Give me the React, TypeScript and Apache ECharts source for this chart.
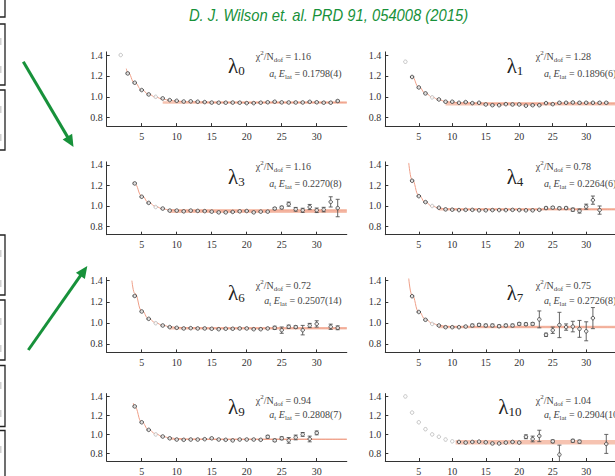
import React, { useEffect, useRef } from "react";
import * as echarts from "echarts";

// ---------- tick labels ----------
const xTickLabels = [5, 10, 15, 20, 25, 30];
const yTickLabels = [0.8, 1.0, 1.2, 1.4];

// ---------- panel annotations ----------
const panelNames = ["0", "1", "3", "4", "6", "7", "9", "10"];
const chiSq = ["1.16", "1.28", "1.16", "0.78", "0.72", "0.75", "0.94", "1.04"];
const energies = ["0.1798(4)", "0.1896(6)", "0.2270(8)", "0.2264(6)", "0.2507(14)", "0.2726(8)", "0.2808(7)", "0.2904(10)"];

// ---------- lambda_0 ----------
const lam0Start = 3;
const lam0Y = [1.224, 1.135, 1.065, 1.023, null, 0.985, 0.969, 0.962, 0.955, 0.957, 0.953, 0.95, 0.945, 0.944, 0.944, 0.945, 0.944, 0.94, 0.94, 0.944, 0.948, 0.953, 0.947, 0.946, 0.946, 0.946, 0.952, 0.948, 0.944, 0.944, 0.96];
const lam0Err = [0.006, 0.005, 0.005, 0.005, 0, 0.004, 0.004, 0.004, 0.004, 0.004, 0.004, 0.004, 0.004, 0.004, 0.004, 0.004, 0.004, 0.004, 0.004, 0.004, 0.004, 0.005, 0.004, 0.004, 0.004, 0.004, 0.005, 0.005, 0.005, 0.005, 0.008];
const lam0GreyT = [2, 7];
const lam0GreyY = [1.4, 1.0];
const lam0CurveT = [2.8, 3, 4, 5, 6, 7, 8, 9, 10, 12, 15, 20, 34.3];
const lam0CurveY = [1.27, 1.235, 1.135, 1.068, 1.025, 0.997, 0.978, 0.966, 0.958, 0.951, 0.947, 0.945, 0.945];
const lam0Plateau = 0.945;
const lam0BandFrom = 8;

// ---------- lambda_1 ----------
const lam1Start = 4;
const lam1Y = [1.19, 1.09, 1.033, null, 0.975, 0.953, 0.953, 0.943, 0.95, 0.94, 0.943, 0.927, 0.92, 0.92, 0.93, 0.927, 0.927, 0.915, 0.92, 0.92, 0.94, 0.93, 0.943, 0.943, 0.946, 0.943, 0.943, 0.943, 0.943, 0.943];
const lam1Err = [0.006, 0.005, 0.005, 0, 0.005, 0.005, 0.005, 0.005, 0.005, 0.005, 0.005, 0.005, 0.005, 0.005, 0.005, 0.005, 0.005, 0.005, 0.005, 0.005, 0.006, 0.006, 0.007, 0.007, 0.007, 0.007, 0.007, 0.007, 0.007, 0.007];
const lam1GreyT = [3, 7];
const lam1GreyY = [1.336, 0.995];
const lam1CurveT = [3.9, 4, 5, 6, 7, 8, 9, 10, 12, 15, 20, 34.3];
const lam1CurveY = [1.2, 1.19, 1.095, 1.035, 0.997, 0.972, 0.956, 0.947, 0.939, 0.935, 0.934, 0.934];
const lam1Plateau = 0.934;
const lam1BandFrom = 9;

// ---------- lambda_3 ----------
const lam3Start = 4;
const lam3Y = [1.22, 1.09, 1.03, null, 0.975, 0.955, 0.955, 0.948, 0.955, 0.952, 0.95, 0.945, 0.938, 0.938, 0.942, 0.948, 0.951, 0.938, 0.945, 0.945, 0.975, 0.985, 1.018, 0.968, 0.958, 0.99, 0.958, 0.965, 1.04, 0.98];
const lam3Err = [0.006, 0.005, 0.005, 0, 0.005, 0.005, 0.005, 0.005, 0.005, 0.005, 0.005, 0.005, 0.005, 0.005, 0.005, 0.005, 0.005, 0.005, 0.005, 0.005, 0.01, 0.012, 0.02, 0.018, 0.02, 0.025, 0.022, 0.022, 0.05, 0.085];
const lam3GreyT = [7];
const lam3GreyY = [0.99];
const lam3CurveT = [3.8, 4, 5, 6, 7, 8, 9, 10, 12, 15, 34.3];
const lam3CurveY = [1.235, 1.215, 1.1, 1.035, 0.995, 0.972, 0.962, 0.957, 0.953, 0.952, 0.952];
const lam3Plateau = 0.952;
const lam3BandFrom = 9;

// ---------- lambda_4 ----------
const lam4Start = 4;
const lam4Y = [1.246, 1.096, 1.038, null, 0.983, 0.967, 0.964, 0.96, 0.962, 0.962, 0.958, 0.958, 0.96, 0.96, 0.96, 0.962, 0.96, 0.958, 0.958, 0.962, 0.98, 0.984, 0.978, 0.98, 0.964, 0.951, 0.993, 1.057, 0.96];
const lam4Err = [0.006, 0.005, 0.005, 0, 0.005, 0.005, 0.005, 0.005, 0.005, 0.005, 0.005, 0.005, 0.005, 0.005, 0.005, 0.005, 0.005, 0.005, 0.005, 0.005, 0.01, 0.01, 0.01, 0.01, 0.015, 0.02, 0.025, 0.04, 0.04];
const lam4GreyT = [7];
const lam4GreyY = [1.0];
const lam4CurveT = [3.5, 4, 5, 6, 7, 8, 9, 10, 12, 34.3];
const lam4CurveY = [1.42, 1.255, 1.105, 1.035, 0.998, 0.98, 0.972, 0.969, 0.967, 0.967];
const lam4Plateau = 0.967;
const lam4BandFrom = 8;

// ---------- lambda_6 ----------
const lam6Start = 4;
const lam6Y = [1.255, 1.108, 1.038, null, 0.975, 0.96, 0.953, 0.947, 0.95, 0.947, 0.947, 0.944, 0.94, 0.944, 0.944, 0.947, 0.947, 0.94, 0.94, 0.947, 0.953, 0.931, 0.963, 0.96, 0.931, 0.975, 0.99, null, 0.963, 0.953];
const lam6Err = [0.006, 0.005, 0.005, 0, 0.005, 0.005, 0.005, 0.005, 0.005, 0.005, 0.005, 0.005, 0.005, 0.005, 0.005, 0.005, 0.005, 0.005, 0.005, 0.005, 0.015, 0.03, 0.015, 0.012, 0.045, 0.02, 0.03, 0, 0.025, 0.018];
const lam6GreyT = [7];
const lam6GreyY = [0.997];
const lam6CurveT = [3.6, 4, 5, 6, 7, 8, 9, 10, 12, 15, 34.3];
const lam6CurveY = [1.4, 1.28, 1.115, 1.04, 1.0, 0.977, 0.964, 0.957, 0.952, 0.95, 0.95];
const lam6Plateau = 0.95;
const lam6BandFrom = 9;

// ---------- lambda_7 ----------
const lam7Start = 4;
const lam7Y = [1.253, 1.103, 1.029, null, 0.975, 0.959, 0.959, 0.959, 0.965, 0.975, 0.981, 0.975, 0.975, 0.968, 0.975, 0.975, 0.99, 0.987, 0.99, 1.033, 0.887, 0.93, 0.98, 0.96, 0.965, 0.943, 0.92, 1.045];
const lam7Err = [0.006, 0.005, 0.005, 0, 0.005, 0.005, 0.005, 0.005, 0.005, 0.012, 0.012, 0.012, 0.012, 0.012, 0.012, 0.012, 0.012, 0.012, 0.012, 0.08, 0.015, 0.03, 0.12, 0.03, 0.05, 0.08, 0.09, 0.1];
const lam7GreyT = [7];
const lam7GreyY = [0.99];
const lam7CurveT = [3.5, 4, 5, 6, 7, 8, 9, 10, 12, 34.3];
const lam7CurveY = [1.42, 1.26, 1.105, 1.035, 0.995, 0.977, 0.968, 0.963, 0.961, 0.96];
const lam7Plateau = 0.96;
const lam7BandFrom = 8;

// ---------- lambda_9 ----------
const lam9Start = 4;
const lam9Y = [1.295, 1.128, 1.048, null, 0.978, 0.959, 0.946, 0.943, 0.946, 0.946, 0.95, 0.959, 0.946, 0.943, 0.937, 0.946, 0.946, 0.946, 0.943, 0.975, 0.937, 0.959, 0.937, 0.968, 1.0, 0.952, 1.016];
const lam9Err = [0.006, 0.005, 0.005, 0, 0.005, 0.005, 0.005, 0.005, 0.005, 0.005, 0.005, 0.005, 0.005, 0.005, 0.005, 0.005, 0.005, 0.005, 0.005, 0.015, 0.012, 0.015, 0.03, 0.025, 0.02, 0.03, 0.02];
const lam9GreyT = [7];
const lam9GreyY = [1.0];
const lam9CurveT = [3.8, 4, 5, 6, 7, 8, 9, 10, 12, 15, 34.3];
const lam9CurveY = [1.33, 1.29, 1.13, 1.05, 1.005, 0.978, 0.964, 0.956, 0.95, 0.948, 0.948];
const lam9Plateau = 0.948;
const lam9BandFrom = 9;

// ---------- lambda_10 ----------
const lam10Start = 11;
const lam10Y = [0.921, 0.914, 0.921, 0.924, 0.917, 0.905, 0.905, 0.914, 0.921, 0.914, 0.975, 0.952, 0.984, null, 0.927, 0.787, null, 0.933, 0.924, null, null, null, 0.9];
const lam10Err = [0.005, 0.005, 0.005, 0.005, 0.005, 0.005, 0.005, 0.005, 0.005, 0.005, 0.02, 0.03, 0.06, 0, 0.015, 0.1, 0, 0.015, 0.015, 0, 0, 0, 0.1];
const lam10GreyT = [3, 4, 5, 6, 7, 8, 9, 10];
const lam10GreyY = [1.4, 1.23, 1.128, 1.055, 1.0, 0.975, 0.946, 0.927];
const lam10CurveT: number[] = [];
const lam10CurveY: number[] = [];
const lam10Plateau = 0.918;
const lam10BandFrom = 10.5;

// ---------- assembled (data only) ----------
const panelData = [
  { start: lam0Start, y: lam0Y, err: lam0Err, gT: lam0GreyT, gY: lam0GreyY, cT: lam0CurveT, cY: lam0CurveY, plateau: lam0Plateau, bandFrom: lam0BandFrom },
  { start: lam1Start, y: lam1Y, err: lam1Err, gT: lam1GreyT, gY: lam1GreyY, cT: lam1CurveT, cY: lam1CurveY, plateau: lam1Plateau, bandFrom: lam1BandFrom },
  { start: lam3Start, y: lam3Y, err: lam3Err, gT: lam3GreyT, gY: lam3GreyY, cT: lam3CurveT, cY: lam3CurveY, plateau: lam3Plateau, bandFrom: lam3BandFrom },
  { start: lam4Start, y: lam4Y, err: lam4Err, gT: lam4GreyT, gY: lam4GreyY, cT: lam4CurveT, cY: lam4CurveY, plateau: lam4Plateau, bandFrom: lam4BandFrom },
  { start: lam6Start, y: lam6Y, err: lam6Err, gT: lam6GreyT, gY: lam6GreyY, cT: lam6CurveT, cY: lam6CurveY, plateau: lam6Plateau, bandFrom: lam6BandFrom },
  { start: lam7Start, y: lam7Y, err: lam7Err, gT: lam7GreyT, gY: lam7GreyY, cT: lam7CurveT, cY: lam7CurveY, plateau: lam7Plateau, bandFrom: lam7BandFrom },
  { start: lam9Start, y: lam9Y, err: lam9Err, gT: lam9GreyT, gY: lam9GreyY, cT: lam9CurveT, cY: lam9CurveY, plateau: lam9Plateau, bandFrom: lam9BandFrom },
  { start: lam10Start, y: lam10Y, err: lam10Err, gT: lam10GreyT, gY: lam10GreyY, cT: lam10CurveT, cY: lam10CurveY, plateau: lam10Plateau, bandFrom: lam10BandFrom },
];

// ---------- layout / style ----------
const X_MIN = 0;
const X_MAX = 34.3;
const Y_MIN = 0.72;
const Y_MAX = 1.43;
const colX0 = [106.7, 385.3];
const colUnit = [7.0, 6.93];
const rowTop = [51.9, 161.9, 277.5, 393.6];
const rowBottom = [126.1, 234.7, 352.4, 467.6];
const bandWidths = [2.5, 3.5, 4, 2.5, 2.5, 2.5, 1.5, 4.5];
const lamX = [228, 506.7, 228, 506.7, 228, 506.7, 228, 498.3];
const chiX = [255.7, 535.7];
const lamY = [66, 176.5, 292.5, 406.5];
const chiY = [56, 166.5, 285.7, 400.7];
const eY = [73.3, 183.3, 300, 414];
const GREEN = "#17913a";
const SERIF = '"Liberation Serif", "DejaVu Serif", serif';
const AXIS = "#333";
const TXT = "#444";

function buildOption() {
  const grid: any[] = [];
  const xAxis: any[] = [];
  const yAxis: any[] = [];
  const series: any[] = [];
  const graphic: any[] = [];

  panelData.forEach((p, i) => {
    const r = Math.floor(i / 2);
    const c = i % 2;
    grid.push({
      left: colX0[c],
      top: rowTop[r],
      width: colUnit[c] * (X_MAX - X_MIN),
      height: rowBottom[r] - rowTop[r],
      containLabel: false,
    });
    xAxis.push({
      gridIndex: i,
      type: "value",
      min: X_MIN,
      max: X_MAX,
      axisLine: { show: true, onZero: false, lineStyle: { color: AXIS, width: 1 } },
      axisTick: { show: true, inside: true, length: 3, customValues: xTickLabels, lineStyle: { color: AXIS } },
      axisLabel: { customValues: xTickLabels, fontFamily: SERIF, fontSize: 10, color: "#333", margin: 5 },
      splitLine: { show: false },
    });
    yAxis.push({
      gridIndex: i,
      type: "value",
      min: Y_MIN,
      max: Y_MAX,
      axisLine: { show: true, onZero: false, lineStyle: { color: AXIS, width: 1 } },
      axisTick: { show: true, inside: true, length: 3, customValues: yTickLabels, lineStyle: { color: AXIS } },
      axisLabel: {
        customValues: yTickLabels,
        formatter: (v: number) => v.toFixed(1),
        fontFamily: SERIF,
        fontSize: 10,
        color: "#333",
        margin: 4,
      },
      splitLine: { show: false },
    });

    const pts: number[][] = [];
    p.y.forEach((v, k) => {
      if (v !== null && v !== undefined) pts.push([p.start + k, v as number, p.err[k]]);
    });
    const grey = p.gT.map((t, k) => [t, p.gY[k]]);
    const curve = p.cT.map((t, k) => [t, p.cY[k]]);

    series.push({
      type: "line",
      xAxisIndex: i,
      yAxisIndex: i,
      data: [
        [p.bandFrom, p.plateau],
        [X_MAX, p.plateau],
      ],
      symbol: "none",
      lineStyle: { color: "rgba(238,135,100,0.5)", width: bandWidths[i] },
      silent: true,
      z: 1,
    });
    if (curve.length) {
      series.push({
        type: "line",
        xAxisIndex: i,
        yAxisIndex: i,
        data: curve,
        smooth: 0.5,
        smoothMonotone: "x",
        symbol: "none",
        lineStyle: { color: "#ef9f88", width: 1 },
        silent: true,
        z: 2,
      });
    }
    series.push({
      type: "custom",
      xAxisIndex: i,
      yAxisIndex: i,
      data: pts,
      clip: true,
      encode: { x: 0, y: 1 },
      silent: true,
      z: 3,
      renderItem: (params: any, api: any) => {
        const t = api.value(0);
        const y = api.value(1);
        const e = api.value(2);
        const hi = api.coord([t, y + e]);
        const lo = api.coord([t, y - e]);
        const w = 2;
        const st = { stroke: "#555", lineWidth: 0.9 };
        return {
          type: "group",
          children: [
            { type: "line", shape: { x1: hi[0], y1: hi[1], x2: lo[0], y2: lo[1] }, style: st },
            { type: "line", shape: { x1: hi[0] - w, y1: hi[1], x2: hi[0] + w, y2: hi[1] }, style: st },
            { type: "line", shape: { x1: lo[0] - w, y1: lo[1], x2: lo[0] + w, y2: lo[1] }, style: st },
          ],
        };
      },
    });
    series.push({
      type: "scatter",
      xAxisIndex: i,
      yAxisIndex: i,
      data: grey,
      symbol: "circle",
      symbolSize: 3.5,
      itemStyle: { color: "#fff", borderColor: "#b5b5b5", borderWidth: 1 },
      silent: true,
      z: 4,
    });
    series.push({
      type: "scatter",
      xAxisIndex: i,
      yAxisIndex: i,
      data: pts.map((d) => [d[0], d[1]]),
      symbol: "circle",
      symbolSize: 3.5,
      itemStyle: { color: "#fff", borderColor: "#333", borderWidth: 1 },
      silent: true,
      z: 5,
    });

    // annotations
    graphic.push({
      type: "text",
      x: lamX[i],
      y: lamY[r],
      silent: true,
      style: {
        text: `{l|λ}{s|${panelNames[i]}}`,
        verticalAlign: "middle",
        align: "left",
        rich: {
          l: { fontSize: 21, fontFamily: SERIF, fill: "#222", lineHeight: 22 },
          s: { fontSize: 13, fontFamily: SERIF, fill: "#222", verticalAlign: "bottom", lineHeight: 9 },
        },
      },
    });
    graphic.push({
      type: "text",
      x: chiX[c],
      y: chiY[r],
      silent: true,
      style: {
        text: `{t|χ}{p|2}{t|/N}{b|dof}{t| = ${chiSq[i]}}`,
        verticalAlign: "middle",
        align: "left",
        rich: {
          t: { fontSize: 10, fontFamily: SERIF, fill: TXT, lineHeight: 14 },
          p: { fontSize: 7, fontFamily: SERIF, fill: TXT, verticalAlign: "top", lineHeight: 7 },
          b: { fontSize: 7, fontFamily: SERIF, fill: TXT, verticalAlign: "bottom", lineHeight: 7 },
        },
      },
    });
    graphic.push({
      type: "text",
      x: c === 0 ? 341.7 : 544,
      y: eY[r],
      silent: true,
      style: {
        text: `{i|a}{b|t}{i| E}{b|lat}{t| = ${energies[i]}}`,
        verticalAlign: "middle",
        align: c === 0 ? "right" : "left",
        rich: {
          i: { fontSize: 10, fontFamily: SERIF, fontStyle: "italic", fill: TXT, lineHeight: 14 },
          t: { fontSize: 10, fontFamily: SERIF, fill: TXT, lineHeight: 14 },
          b: { fontSize: 7, fontFamily: SERIF, fill: TXT, verticalAlign: "bottom", lineHeight: 7 },
        },
      },
    });
  });

  // title
  graphic.push({
    type: "text",
    x: 328.5,
    y: 15,
    scaleX: 0.87,
    silent: true,
    style: {
      text: "D. J. Wilson et. al. PRD 91, 054008 (2015)",
      fontFamily: '"Liberation Sans", Arial, sans-serif',
      fontStyle: "italic",
      fontSize: 17,
      fill: GREEN,
      align: "center",
      verticalAlign: "middle",
    },
  });

  // left slide boxes (cropped)
  const boxes = [
    [-20, -10, 25, 27],
    [-20, 24, 25, 61],
    [-20, 90, 25, 60],
    [-20, 235, 25, 60],
    [-20, 300, 25, 60],
    [-20, 365.5, 25, 61],
    [-20, 430.5, 25, 60],
  ];
  boxes.forEach((b) => {
    graphic.push({
      type: "rect",
      silent: true,
      shape: { x: b[0], y: b[1], width: b[2], height: b[3] },
      style: { fill: "#fff", stroke: "#222", lineWidth: 1.3 },
    });
  });
  [38, 66, 106, 134, 250, 280, 318, 345, 382, 410, 446].forEach((yy) => {
    graphic.push({
      type: "rect",
      silent: true,
      shape: { x: 0, y: yy, width: 1.5, height: 7 },
      style: { fill: "#d0d0d0" },
    });
  });

  // arrows
  const arrow = (sx: number, sy: number, tx: number, ty: number) => {
    const dx = tx - sx;
    const dy = ty - sy;
    const len = Math.hypot(dx, dy);
    const ux = dx / len;
    const uy = dy / len;
    const hl = 12;
    const hw = 5.5;
    const bx = tx - ux * hl;
    const by = ty - uy * hl;
    graphic.push({
      type: "line",
      silent: true,
      shape: { x1: sx, y1: sy, x2: bx + ux * 2, y2: by + uy * 2 },
      style: { stroke: GREEN, lineWidth: 3 },
    });
    graphic.push({
      type: "polygon",
      silent: true,
      shape: {
        points: [
          [tx, ty],
          [bx - uy * hw, by + ux * hw],
          [bx + uy * hw, by - ux * hw],
        ],
      },
      style: { fill: GREEN },
    });
  };
  arrow(23.3, 61.7, 73.5, 147);
  arrow(28.3, 350, 87.3, 266);

  return {
    animation: false,
    backgroundColor: "#fff",
    grid,
    xAxis,
    yAxis,
    series,
    graphic,
  };
}

export default function App() {
  const ref = useRef<HTMLDivElement>(null);
  useEffect(() => {
    if (!ref.current) return;
    const chart = echarts.init(ref.current, null, { renderer: "svg" });
    chart.setOption(buildOption() as any);
    return () => chart.dispose();
  }, []);
  return (
    <div
      ref={ref}
      style={{ position: "fixed", left: 0, top: 0, width: 615, height: 476, overflow: "hidden", background: "#fff" }}
    />
  );
}
